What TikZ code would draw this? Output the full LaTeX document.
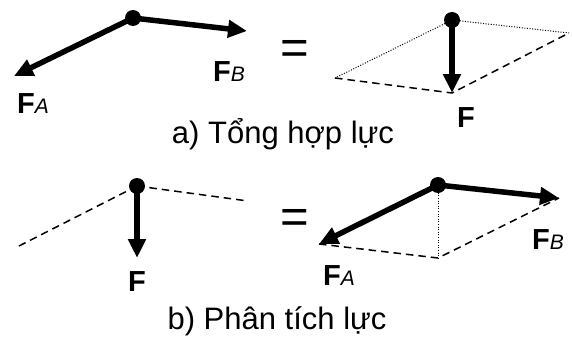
\documentclass[tikz,border=0pt]{standalone}
\usepackage{fontspec}
\setmainfont{Liberation Sans}
\usetikzlibrary{arrows.meta}
\begin{document}
\begin{tikzpicture}[x=1pt,y=-1pt,
  force/.style={line width=5.5pt,-{Triangle[length=19pt,width=17pt]}},
  dashln/.style={line width=1.5pt,dash pattern=on 7.5pt off 5pt},
  dotln/.style={line width=1pt,dash pattern=on 1pt off 1.6pt},
  pt/.style={circle,fill=black,inner sep=0pt,minimum size=16pt},
  lbl/.style={inner sep=0pt,anchor=base west,font=\fontsize{29}{29}\selectfont\bfseries},
  captext/.style={inner sep=0pt,anchor=base,font=\fontsize{31}{31}\selectfont},
  eq/.style={inner sep=0pt,font=\fontsize{49}{49}\selectfont}]
\useasboundingbox (0,0) rectangle (572,345);
\newcommand{\subs}[1]{{\fontsize{21}{21}\selectfont\mdseries\itshape #1}}
% ---- a) top left
\node[pt] (o1) at (133,18) {};
\coordinate (a1) at (14,76);
\coordinate (b1) at (247,31);
\draw[force] (o1.center) -- (a1);
\draw[force] (o1.center) -- (b1);
\node[lbl] (la1) at (17,113) {F\subs{A}};
\node[lbl] (lb1) at (213,81) {F\subs{B}};
\node[eq] (eq1) at (295,52) {=};
% ---- a) top right
\node[pt] (o2) at (452,20) {};
\coordinate (l2) at (335,78);
\coordinate (r2) at (569,33);
\coordinate (d2) at (452,93);
\draw[dotln] (o2.center) -- (l2);
\draw[dotln] (o2.center) -- (r2);
\draw[dashln] (l2) -- (d2) -- (r2);
\draw[force] (o2.center) -- (d2);
\node[lbl] (lf2) at (457,127) {F};
\node[captext] (ca) at (283,143) {a) Tổng hợp lực};
% ---- b) bottom left
\node[pt] (o3) at (137,186) {};
\coordinate (l3) at (17,247);
\coordinate (r3) at (248,201);
\coordinate (d3) at (137,258);
\draw[dashln] (o3.center) -- (l3);
\draw[dashln] (o3.center) -- (r3);
\draw[force] (o3.center) -- (d3);
\node[lbl] (lf3) at (128,291) {F};
\node[eq] (eq2) at (295,221) {=};
% ---- b) bottom right
\node[pt] (o4) at (438,185) {};
\coordinate (a4) at (319,244);
\coordinate (b4) at (559,198);
\coordinate (d4) at (438,258);
\draw[dotln] (o4.center) -- (d4);
\draw[dashln] (a4) -- (d4) -- (b4);
\draw[force] (o4.center) -- (a4);
\draw[force] (o4.center) -- (b4);
\node[lbl] (la4) at (323,285) {F\subs{A}};
\node[lbl] (lb4) at (532,249) {F\subs{B}};
\node[captext] (cb) at (277,329) {b) Phân tích lực};
\end{tikzpicture}
\end{document}
